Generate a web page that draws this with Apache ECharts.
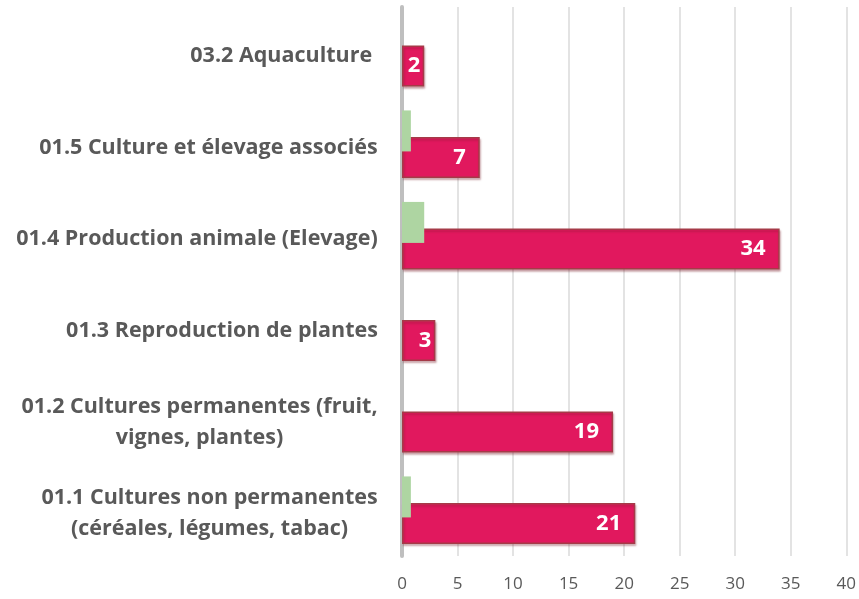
<!DOCTYPE html>
<html>
<head>
<meta charset="utf-8">
<script src="https://cdn.jsdelivr.net/npm/echarts@6/dist/echarts.min.js"></script>
<style>
  html, body { margin: 0; padding: 0; background: #ffffff; }
  #chart { width: 859px; height: 599px; }
</style>
</head>
<body>
<div id="chart"></div>
<script>
// Activity sectors, listed bottom to top as the category axis draws them
const categories = [
  '01.1 Cultures non permanentes\n(céréales, légumes, tabac)',
  '01.2 Cultures permanentes (fruit,\nvignes, plantes)',
  '01.3 Reproduction de plantes',
  '01.4 Production animale (Elevage)',
  '01.5 Culture et élevage associés',
  '03.2 Aquaculture '
];
// Main series (crimson bars, labelled)
const mainValues = [21, 19, 3, 34, 7, 2];
// Secondary series (small green bars)
const secondaryValues = [0.8, 0, 0, 2, 0.8, 0];
// Value axis ticks
const xTicks = [0, 5, 10, 15, 20, 25, 30, 35, 40];

const labelFamily = 'Open Sans';
const catFontSize = 21.5;

// Multi-line category labels: each line centred inside a box as wide as the longest line
const measureCtx = document.createElement('canvas').getContext('2d');
measureCtx.font = 'bold ' + catFontSize + 'px "' + labelFamily + '"';
const rich = {};
categories.forEach((c, i) => {
  const w = Math.max(...c.split('\n').map(l => measureCtx.measureText(l).width));
  rich['c' + i] = {
    width: Math.ceil(w),
    align: 'center',
    fontFamily: labelFamily,
    fontWeight: 'bold',
    fontSize: catFontSize,
    color: '#595959',
    lineHeight: 31
  };
});

const chart = echarts.init(document.getElementById('chart'), null, { renderer: 'canvas' });

chart.setOption({
  animation: false,
  backgroundColor: '#ffffff',
  grid: { left: 402, right: 12, top: 7, bottom: 43, containLabel: false },
  xAxis: {
    type: 'value',
    min: xTicks[0],
    max: xTicks[xTicks.length - 1],
    interval: xTicks[1] - xTicks[0],
    axisLine: { show: false },
    axisTick: { show: false },
    splitLine: { show: true, lineStyle: { color: '#e3e3e3', width: 2 } },
    axisLabel: {
      margin: 20,
      color: '#595959',
      fontFamily: labelFamily,
      fontSize: 17,
      formatter: v => xTicks.includes(v) ? String(v) : ''
    }
  },
  yAxis: {
    type: 'category',
    data: categories,
    axisLine: { show: true, lineStyle: { color: '#bfbfbf', width: 4 } },
    axisTick: { show: false },
    splitLine: { show: false },
    axisLabel: {
      margin: 24,
      padding: [7, 0, 0, 0],
      rich: rich,
      formatter: (value, index) =>
        value.split('\n').map(line => '{c' + index + '|' + line + '}').join('\n')
    }
  },
  series: [
    {
      name: 'secondaire',
      type: 'bar',
      barWidth: 41,
      barGap: '-35%',
      data: secondaryValues,
      itemStyle: {
        color: '#aed5a2'
      },
      z: 3
    },
    {
      name: 'principal',
      type: 'bar',
      barWidth: 41,
      data: mainValues.map(v => ({
        value: v,
        label: { distance: v < 5 ? 4 : 14 }
      })),
      itemStyle: {
        color: '#e1185e',
        borderColor: '#a53a48',
        borderWidth: 1.5,
        shadowColor: 'rgba(120, 30, 40, 0.35)',
        shadowOffsetX: 1,
        shadowOffsetY: 2,
        shadowBlur: 2
      },
      label: {
        show: true,
        position: 'insideRight',
        color: '#ffffff',
        fontFamily: labelFamily,
        fontWeight: 'bold',
        fontSize: 22
      },
      z: 2
    }
  ]
});
</script>
</body>
</html>
